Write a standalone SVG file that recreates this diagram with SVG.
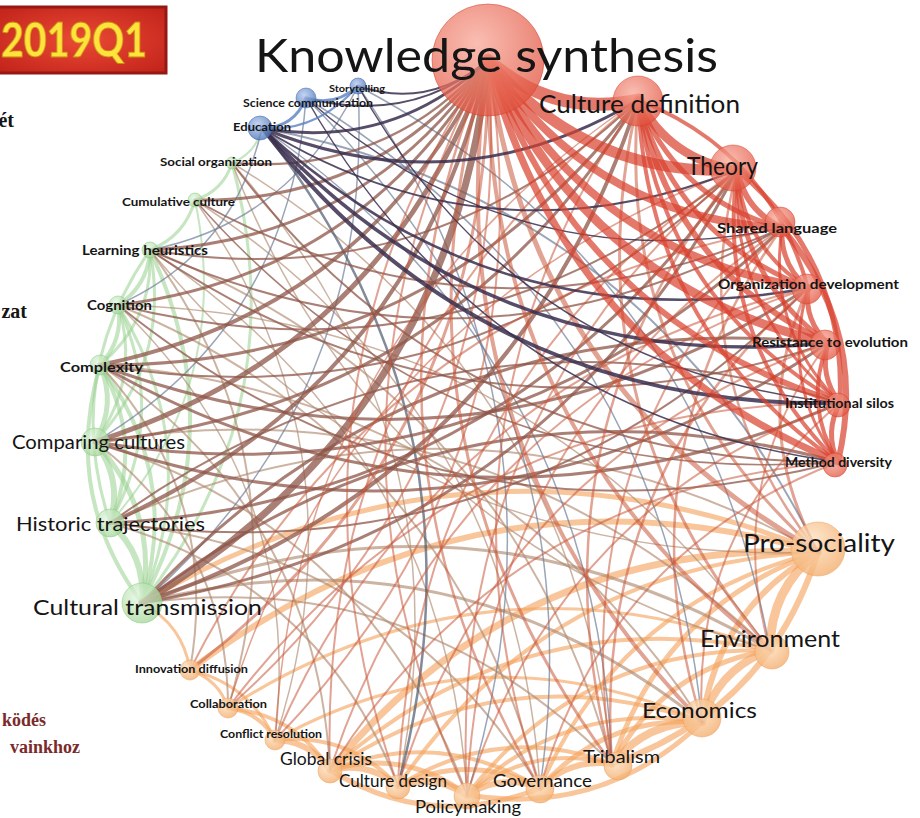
<svg xmlns="http://www.w3.org/2000/svg" width="920" height="818" viewBox="0 0 920 818">
<defs>
<radialGradient id="gR" cx=".4" cy=".35" r=".7"><stop offset="0" stop-color="#f8a898"/><stop offset="1" stop-color="#e0503c"/></radialGradient>
<radialGradient id="gO" cx=".4" cy=".35" r=".7"><stop offset="0" stop-color="#fde2c4"/><stop offset="1" stop-color="#f3ac6a"/></radialGradient>
<radialGradient id="gG" cx=".4" cy=".35" r=".7"><stop offset="0" stop-color="#e4f6e0"/><stop offset="1" stop-color="#9fd494"/></radialGradient>
<radialGradient id="gB" cx=".4" cy=".35" r=".7"><stop offset="0" stop-color="#b4caee"/><stop offset="1" stop-color="#4a72b8"/></radialGradient>
<radialGradient id="gBox" cx=".5" cy=".5" r=".7"><stop offset="0" stop-color="#ea4a34"/><stop offset="1" stop-color="#c0221a"/></radialGradient>
</defs>
<style>
.e{fill:none;stroke-linecap:round}
.rr{stroke:#d8402c;stroke-opacity:.7}
.ro{stroke:#c8583a;stroke-opacity:.55}
.rg{stroke:#8e5548;stroke-opacity:.75}
.rb{stroke:#3a2e4e;stroke-opacity:.85}
.oo{stroke:#f3a35c;stroke-opacity:.62}
.og{stroke:#b08a70;stroke-opacity:.65}
.gg{stroke:#98d08e;stroke-opacity:.55}
.bb{stroke:#5a80c0;stroke-opacity:.8}
.bx{stroke:#6f7f98;stroke-opacity:.7}
.nR{fill:url(#gR);fill-opacity:.75;stroke:#d8402c;stroke-opacity:.5}
.nO{fill:url(#gO);fill-opacity:.8;stroke:#f0a060;stroke-opacity:.5}
.nG{fill:url(#gG);fill-opacity:.75;stroke:#8cc884;stroke-opacity:.5}
.nB{fill:url(#gB);fill-opacity:.8;stroke:#3a62a8;stroke-opacity:.5}
text{font-family:Lato,"Open Sans","DejaVu Sans",sans-serif;fill:#151515}
.b{font-weight:700}
.sv{font-family:"Liberation Serif","DejaVu Serif",serif;font-weight:700}
</style>
<rect width="920" height="818" fill="#ffffff"/>

<g id="header">
<rect x="-4" y="7" width="170" height="66" fill="url(#gBox)" stroke="#951812" stroke-width="3"/>
<text x="1" y="57" font-size="47" font-weight="900" textLength="146" lengthAdjust="spacingAndGlyphs" style="fill:#ffe23c;stroke:#c88a10;stroke-width:.8">2019Q1</text>
<text class="sv" x="14" y="127" font-size="20" text-anchor="end">ét</text>
<text class="sv" x="27" y="318" font-size="20" text-anchor="end">zat</text>
<text class="sv" x="46" y="726" font-size="18" text-anchor="end" style="fill:#7a2a2a">ködés</text>
<text class="sv" x="80" y="753" font-size="18" text-anchor="end" style="fill:#7a2a2a">vainkhoz</text>
</g>

<g id="connectors">
<!-- orange-orange -->
<path class="e oo" stroke-width="9" d="M818 552Q770 589 770 650"/>
<path class="e oo" stroke-width="8" d="M770 650Q718 669 702 722"/>
<path class="e oo" stroke-width="8" d="M702 722Q647 721 612 764"/>
<path class="e oo" stroke-width="6" d="M612 764Q570 758 540 788"/>
<path class="e oo" stroke-width="6" d="M540 788Q502 773 467 795"/>
<path class="e oo" stroke-width="7" d="M467 795Q435 773 398 786"/>
<path class="e oo" stroke-width="6" d="M398 786Q368 761 330 770"/>
<path class="e oo" stroke-width="6" d="M330 770Q310 741 275 740"/>
<path class="e oo" stroke-width="4" d="M275 740Q260 712 228 708"/>
<path class="e oo" stroke-width="3" d="M228 708Q219 680 190 670"/>
<path class="e oo" stroke-width="3" d="M190 670Q183 625 142 603"/>
<path class="e oo" stroke-width="6" d="M818 552Q718 608 702 722"/>
<path class="e oo" stroke-width="5" d="M818 552Q662 607 612 764"/>
<path class="e oo" stroke-width="4" d="M818 552Q620 601 540 788"/>
<path class="e oo" stroke-width="4" d="M818 552Q550 564 398 786"/>
<path class="e oo" stroke-width="7" d="M818 552Q520 539 330 770"/>
<path class="e oo" stroke-width="6" d="M818 552Q475 454 190 670"/>
<path class="e oo" stroke-width="5" d="M818 552Q467 409 142 603"/>
<path class="e oo" stroke-width="5" d="M770 650Q663 668 612 764"/>
<path class="e oo" stroke-width="4" d="M770 650Q582 647 467 795"/>
<path class="e oo" stroke-width="4" d="M770 650Q520 600 330 770"/>
<path class="e oo" stroke-width="3" d="M770 650Q485 544 228 708"/>
<path class="e oo" stroke-width="5" d="M702 722Q605 715 540 788"/>
<path class="e oo" stroke-width="4" d="M702 722Q566 700 467 795"/>
<path class="e oo" stroke-width="4" d="M702 722Q504 653 330 770"/>
<path class="e oo" stroke-width="3" d="M702 722Q484 624 275 740"/>
<path class="e oo" stroke-width="4" d="M612 764Q532 743 467 795"/>
<path class="e oo" stroke-width="4" d="M612 764Q500 722 398 786"/>
<path class="e oo" stroke-width="5" d="M540 788Q470 752 398 786"/>
<path class="e oo" stroke-width="4" d="M540 788Q440 727 330 770"/>
<path class="e oo" stroke-width="5" d="M467 795Q405 748 330 770"/>
<path class="e oo" stroke-width="4" d="M398 786Q348 732 275 740"/>
<path class="e oo" stroke-width="4" d="M330 770Q295 714 228 708"/>
<path class="e oo" stroke-width="3" d="M275 740Q250 684 190 670"/>
<path class="e oo" stroke-width="6" d="M818 552Q768 710 612 764"/>
<path class="e oo" stroke-width="5" d="M702 722Q603 817 467 795"/>
<path class="e oo" stroke-width="5" d="M540 788Q431 832 330 770"/>
<!-- green-green -->
<path class="e gg" stroke-width="6" d="M142 603Q146 555 110 523"/>
<path class="e gg" stroke-width="6" d="M110 523Q123 479 95 442"/>
<path class="e gg" stroke-width="5" d="M95 442Q117 405 100 365"/>
<path class="e gg" stroke-width="4" d="M100 365Q124 340 118 305"/>
<path class="e gg" stroke-width="4" d="M118 305Q148 286 150 250"/>
<path class="e gg" stroke-width="3" d="M150 250Q185 236 195 200"/>
<path class="e gg" stroke-width="3" d="M195 200Q223 191 232 163"/>
<path class="e gg" stroke-width="2" d="M232 163Q256 153 262 128"/>
<path class="e gg" stroke-width="5" d="M142 603Q159 511 95 442"/>
<path class="e gg" stroke-width="4" d="M142 603Q181 474 100 365"/>
<path class="e gg" stroke-width="3" d="M142 603Q205 448 118 305"/>
<path class="e gg" stroke-width="4" d="M142 603Q234 429 150 250"/>
<path class="e gg" stroke-width="3" d="M142 603Q297 406 232 163"/>
<path class="e gg" stroke-width="4" d="M110 523Q145 442 100 365"/>
<path class="e gg" stroke-width="3" d="M110 523Q169 416 118 305"/>
<path class="e gg" stroke-width="2" d="M110 523Q233 383 195 200"/>
<path class="e gg" stroke-width="3" d="M95 442Q141 379 118 305"/>
<path class="e gg" stroke-width="3" d="M95 442Q171 360 150 250"/>
<path class="e gg" stroke-width="3" d="M100 365Q154 320 150 250"/>
<path class="e gg" stroke-width="4" d="M142 603Q62 495 100 365"/>
<path class="e gg" stroke-width="3" d="M110 523Q62 377 150 250"/>
<!-- orange-green -->
<path class="e og" stroke-width="3" d="M770 650Q468 470 142 603"/>
<path class="e og" stroke-width="3" d="M702 722Q452 523 142 603"/>
<path class="e og" stroke-width="2" d="M818 552Q471 361 110 523"/>
<path class="e og" stroke-width="2" d="M770 650Q485 377 95 442"/>
<path class="e og" stroke-width="2" d="M702 722Q490 393 100 365"/>
<path class="e og" stroke-width="2" d="M540 788Q450 441 118 305"/>
<path class="e og" stroke-width="2" d="M612 764Q510 392 150 250"/>
<path class="e og" stroke-width="2" d="M612 764Q417 566 142 603"/>
<path class="e og" stroke-width="2" d="M540 788Q391 548 110 523"/>
<path class="e og" stroke-width="2" d="M467 795Q369 526 95 442"/>
<path class="e og" stroke-width="2" d="M190 670Q221 495 100 365"/>
<path class="e og" stroke-width="2" d="M228 708Q304 460 150 250"/>
<path class="e og" stroke-width="1.5" d="M232 163Q379 541 770 650"/>
<path class="e og" stroke-width="1.5" d="M540 788Q515 408 195 200"/>
<path class="e og" stroke-width="1.5" d="M150 250Q409 568 818 552"/>
<path class="e og" stroke-width="1.5" d="M770 650Q530 315 118 305"/>
<path class="e og" stroke-width="1.5" d="M275 740Q370 450 195 200"/>
<path class="e og" stroke-width="1.5" d="M398 786Q471 433 232 163"/>
<path class="e og" stroke-width="2" d="M330 770Q316 510 100 365"/>
<path class="e og" stroke-width="2" d="M398 786Q320 583 110 523"/>
<path class="e og" stroke-width="1.5" d="M467 795Q445 443 150 250"/>
<path class="e og" stroke-width="2" d="M228 708Q228 542 95 442"/>
<path class="e og" stroke-width="1.5" d="M275 740Q305 483 118 305"/>
<path class="e og" stroke-width="1.5" d="M612 764Q572 369 232 163"/>
<!-- blue-other -->
<path class="e bx" stroke-width="1.5" d="M540 788Q598 389 306 98"/>
<path class="e bx" stroke-width="1.5" d="M467 795Q585 415 358 86"/>
<path class="e bx" stroke-width="1.5" d="M702 722Q662 315 306 98"/>
<path class="e bx" stroke-width="1.5" d="M770 650Q701 267 358 86"/>
<path class="e bx" stroke-width="1.5" d="M612 764Q596 359 262 128"/>
<path class="e bx" stroke-width="1.5" d="M95 442Q289 327 306 98"/>
<path class="e bx" stroke-width="1.5" d="M142 603Q375 400 358 86"/>
<path class="e bx" stroke-width="1.5" d="M118 305Q234 253 262 128"/>
<path class="e bx" stroke-width="1.5" d="M150 250Q291 222 358 86"/>
<path class="e bx" stroke-width="2" d="M818 552Q646 201 262 128"/>
<path class="e bx" stroke-width="2.5" style="stroke:#4e5a6e" d="M398 786Q495 423 262 128"/>
<!-- red-green -->
<path class="e rg" stroke-width="7" d="M142 603Q451 418 488 60"/>
<path class="e rg" stroke-width="4" d="M110 523Q415 386 488 60"/>
<path class="e rg" stroke-width="5" d="M95 442Q387 349 488 60"/>
<path class="e rg" stroke-width="4" d="M100 365Q370 310 488 60"/>
<path class="e rg" stroke-width="3" d="M118 305Q364 275 488 60"/>
<path class="e rg" stroke-width="3" d="M150 250Q367 240 488 60"/>
<path class="e rg" stroke-width="3" d="M195 200Q377 203 488 60"/>
<path class="e rg" stroke-width="2.5" d="M232 163Q386 176 488 60"/>
<path class="e rg" stroke-width="4" d="M142 603Q516 476 638 100"/>
<path class="e rg" stroke-width="3" d="M95 442Q452 407 638 100"/>
<path class="e rg" stroke-width="3" d="M100 365Q435 367 638 100"/>
<path class="e rg" stroke-width="2" d="M150 250Q432 297 638 100"/>
<path class="e rg" stroke-width="3" d="M142 603Q548 535 737 170"/>
<path class="e rg" stroke-width="3" d="M110 523Q512 503 737 170"/>
<path class="e rg" stroke-width="2" d="M118 305Q461 392 737 170"/>
<path class="e rg" stroke-width="3" d="M95 442Q492 507 782 228"/>
<path class="e rg" stroke-width="2" d="M195 200Q482 361 782 228"/>
<path class="e rg" stroke-width="2" d="M110 523Q518 580 808 288"/>
<path class="e rg" stroke-width="3" d="M100 365Q473 504 808 288"/>
<path class="e rg" stroke-width="3" d="M828 343Q420 302 142 603"/>
<path class="e rg" stroke-width="3" d="M95 442Q486 576 828 343"/>
<path class="e rg" stroke-width="2" d="M150 250Q466 466 828 343"/>
<path class="e rg" stroke-width="2" d="M840 403Q445 281 110 523"/>
<path class="e rg" stroke-width="3" d="M100 365Q461 569 840 403"/>
<path class="e rg" stroke-width="3" d="M838 462Q455 359 142 603"/>
<path class="e rg" stroke-width="2" d="M118 305Q439 564 838 462"/>
<path class="e rg" stroke-width="2" d="M232 163Q460 464 838 462"/>
<path class="e rg" stroke-width="2" d="M100 365Q467 427 737 170"/>
<path class="e rg" stroke-width="2" d="M150 250Q472 397 782 228"/>
<path class="e rg" stroke-width="1.5" d="M195 200Q451 492 838 462"/>
<!-- red-orange -->
<path class="e ro" stroke-width="5" d="M488 60Q530 389 818 552"/>
<path class="e ro" stroke-width="4" d="M488 60Q482 426 770 650"/>
<path class="e ro" stroke-width="4" d="M488 60Q430 445 702 722"/>
<path class="e ro" stroke-width="3" d="M488 60Q374 443 612 764"/>
<path class="e ro" stroke-width="2.5" d="M488 60Q332 437 540 788"/>
<path class="e ro" stroke-width="2" d="M488 60Q294 422 467 795"/>
<path class="e ro" stroke-width="2" d="M488 60Q262 401 398 786"/>
<path class="e ro" stroke-width="3" d="M638 100Q567 408 770 650"/>
<path class="e ro" stroke-width="2" d="M638 100Q417 420 540 788"/>
<path class="e ro" stroke-width="2" d="M638 100Q317 358 330 770"/>
<path class="e ro" stroke-width="2.5" d="M737 170Q526 436 612 764"/>
<path class="e ro" stroke-width="2" d="M737 170Q414 393 398 786"/>
<path class="e ro" stroke-width="2.5" d="M782 228Q619 455 702 722"/>
<path class="e ro" stroke-width="2" d="M782 228Q483 433 467 795"/>
<path class="e ro" stroke-width="2" d="M782 228Q376 301 190 670"/>
<path class="e ro" stroke-width="2.5" d="M808 288Q591 477 612 764"/>
<path class="e ro" stroke-width="2" d="M808 288Q429 381 275 740"/>
<path class="e ro" stroke-width="2" d="M828 343Q502 457 398 786"/>
<path class="e ro" stroke-width="2" d="M840 403Q556 506 467 795"/>
<path class="e ro" stroke-width="2" d="M840 403Q458 403 228 708"/>
<path class="e ro" stroke-width="2" d="M838 462Q608 551 540 788"/>
<path class="e ro" stroke-width="2" d="M838 462Q507 489 330 770"/>
<path class="e ro" stroke-width="3" d="M638 100Q615 371 818 552"/>
<path class="e ro" stroke-width="2.5" d="M737 170Q682 381 818 552"/>
<path class="e ro" stroke-width="3" d="M808 288Q747 423 818 552"/>
<path class="e ro" stroke-width="2" d="M828 343Q722 482 770 650"/>
<path class="e ro" stroke-width="2" d="M840 403Q691 528 702 722"/>
<path class="e ro" stroke-width="2" d="M782 228Q563 454 612 764"/>
<path class="e ro" stroke-width="2" d="M737 170Q446 415 467 795"/>
<path class="e ro" stroke-width="2" d="M808 288Q449 410 330 770"/>
<path class="e ro" stroke-width="1.5" d="M737 170Q348 312 228 708"/>
<path class="e ro" stroke-width="1.5" d="M638 100Q297 329 275 740"/>
<path class="e ro" stroke-width="2" d="M275 740Q552 453 488 60"/>
<path class="e ro" stroke-width="2" d="M228 708Q520 449 488 60"/>
<path class="e ro" stroke-width="3" d="M190 670Q492 440 488 60"/>
<!-- red-blue -->
<path class="e rb" stroke-width="3" d="M262 128Q392 151 488 60"/>
<path class="e rb" stroke-width="2" d="M306 98Q411 125 488 60"/>
<path class="e rb" stroke-width="2" d="M358 86Q428 110 488 60"/>
<path class="e rb" stroke-width="3" d="M262 128Q457 208 638 100"/>
<path class="e rb" stroke-width="2" d="M262 128Q489 268 737 170"/>
<path class="e rb" stroke-width="2.5" d="M262 128Q495 345 808 288"/>
<path class="e rb" stroke-width="3.5" d="M262 128Q491 377 828 343"/>
<path class="e rb" stroke-width="4" d="M262 128Q482 410 840 403"/>
<path class="e rb" stroke-width="1.5" d="M306 98Q516 283 782 228"/>
<path class="e rb" stroke-width="1.5" d="M358 86Q518 370 840 403"/>
<path class="e rb" stroke-width="1.5" d="M306 98Q486 414 838 462"/>
<!-- blue-blue -->
<path class="e bb" stroke-width="3" d="M262 128Q294 128 306 98"/>
<path class="e bb" stroke-width="3" d="M306 98Q335 107 358 86"/>
<path class="e bb" stroke-width="2" d="M262 128Q316 133 358 86"/>
<!-- red-red -->
<path class="e rr" stroke-width="13" d="M488 60Q553 118 638 100"/>
<path class="e rr" stroke-width="11" d="M488 60Q585 177 737 170"/>
<path class="e rr" stroke-width="8" d="M488 60Q593 218 782 228"/>
<path class="e rr" stroke-width="8" d="M488 60Q591 254 808 288"/>
<path class="e rr" stroke-width="9" d="M488 60Q587 287 828 343"/>
<path class="e rr" stroke-width="6" d="M488 60Q578 320 840 403"/>
<path class="e rr" stroke-width="7" d="M488 60Q563 349 838 462"/>
<path class="e rr" stroke-width="9" d="M638 100Q670 160 737 170"/>
<path class="e rr" stroke-width="5" d="M638 100Q678 200 782 228"/>
<path class="e rr" stroke-width="5" d="M638 100Q676 237 808 288"/>
<path class="e rr" stroke-width="6" d="M638 100Q672 269 828 343"/>
<path class="e rr" stroke-width="4" d="M638 100Q663 302 840 403"/>
<path class="e rr" stroke-width="4" d="M638 100Q648 331 838 462"/>
<path class="e rr" stroke-width="6" d="M737 170Q745 210 782 228"/>
<path class="e rr" stroke-width="4" d="M737 170Q743 247 808 288"/>
<path class="e rr" stroke-width="5" d="M737 170Q739 279 828 343"/>
<path class="e rr" stroke-width="3" d="M737 170Q730 312 840 403"/>
<path class="e rr" stroke-width="4" d="M737 170Q715 341 838 462"/>
<path class="e rr" stroke-width="5" d="M782 228Q780 265 808 288"/>
<path class="e rr" stroke-width="3" d="M782 228Q767 330 840 403"/>
<path class="e rr" stroke-width="5" d="M808 288Q804 321 828 343"/>
<path class="e rr" stroke-width="3" d="M808 288Q780 383 838 462"/>
<path class="e rr" stroke-width="5" d="M828 343Q819 376 840 403"/>
<path class="e rr" stroke-width="4" d="M828 343Q803 405 838 462"/>
<path class="e rr" stroke-width="5" d="M840 403Q824 432 838 462"/>
<path class="e rr" stroke-width="6" d="M782 228Q869 331 838 462"/>
<path class="e rr" stroke-width="5" d="M737 170Q847 261 840 403"/>
<path class="e rr" stroke-width="4" d="M638 100Q770 152 808 288"/>
</g>

<g id="n-knowledge-synthesis"><circle class="nR" cx="488" cy="60" r="56"/><text x="255" y="72" font-size="46" textLength="463" lengthAdjust="spacingAndGlyphs">Knowledge synthesis</text></g>
<g id="n-culture-definition"><circle class="nR" cx="638" cy="101" r="25"/><text x="539" y="113" font-size="25" textLength="201" lengthAdjust="spacingAndGlyphs">Culture definition</text></g>
<g id="n-theory"><circle class="nR" cx="733" cy="168" r="23"/><text x="687" y="175" font-size="25" textLength="71" lengthAdjust="spacingAndGlyphs">Theory</text></g>
<g id="n-shared-language"><circle class="nR" cx="780" cy="222" r="15"/><text class="b" x="717" y="233" font-size="14" textLength="120" lengthAdjust="spacingAndGlyphs">Shared language</text></g>
<g id="n-organization-development"><circle class="nR" cx="807" cy="289" r="15"/><text class="b" x="718" y="289" font-size="13.5" textLength="181" lengthAdjust="spacingAndGlyphs">Organization development</text></g>
<g id="n-resistance-to-evolution"><circle class="nR" cx="825" cy="345" r="15"/><text class="b" x="752" y="347" font-size="13.5" textLength="156" lengthAdjust="spacingAndGlyphs">Resistance to evolution</text></g>
<g id="n-institutional-silos"><circle class="nR" cx="838" cy="405" r="12"/><text class="b" x="785" y="408" font-size="13" textLength="109" lengthAdjust="spacingAndGlyphs">Institutional silos</text></g>
<g id="n-method-diversity"><circle class="nR" cx="835" cy="465" r="12"/><text class="b" x="785" y="467" font-size="13" textLength="107" lengthAdjust="spacingAndGlyphs">Method diversity</text></g>
<g id="n-pro-sociality"><circle class="nO" cx="818" cy="549" r="27"/><text x="743" y="552" font-size="25" textLength="152" lengthAdjust="spacingAndGlyphs">Pro-sociality</text></g>
<g id="n-environment"><circle class="nO" cx="772" cy="652" r="17"/><text x="700" y="647" font-size="23" textLength="140" lengthAdjust="spacingAndGlyphs">Environment</text></g>
<g id="n-economics"><circle class="nO" cx="702" cy="718" r="19"/><text x="642" y="718" font-size="22" textLength="115" lengthAdjust="spacingAndGlyphs">Economics</text></g>
<g id="n-tribalism"><circle class="nO" cx="618" cy="766" r="14"/><text x="583" y="763" font-size="18" textLength="77" lengthAdjust="spacingAndGlyphs">Tribalism</text></g>
<g id="n-governance"><circle class="nO" cx="540" cy="789" r="14"/><text x="493" y="787" font-size="17.5" textLength="99" lengthAdjust="spacingAndGlyphs">Governance</text></g>
<g id="n-policymaking"><circle class="nO" cx="467" cy="796" r="13"/><text x="415" y="813" font-size="17" textLength="106" lengthAdjust="spacingAndGlyphs">Policymaking</text></g>
<g id="n-culture-design"><circle class="nO" cx="398" cy="787" r="12"/><text x="339" y="787" font-size="16.5" textLength="108" lengthAdjust="spacingAndGlyphs">Culture design</text></g>
<g id="n-global-crisis"><circle class="nO" cx="330" cy="771" r="12"/><text x="280" y="765" font-size="17" textLength="92" lengthAdjust="spacingAndGlyphs">Global crisis</text></g>
<g id="n-conflict-resolution"><circle class="nO" cx="275" cy="740" r="10"/><text class="b" x="220" y="738" font-size="11.5" textLength="102" lengthAdjust="spacingAndGlyphs">Conflict resolution</text></g>
<g id="n-collaboration"><circle class="nO" cx="228" cy="708" r="10"/><text class="b" x="190" y="708" font-size="11.5" textLength="77" lengthAdjust="spacingAndGlyphs">Collaboration</text></g>
<g id="n-innovation-diffusion"><circle class="nO" cx="190" cy="670" r="10"/><text class="b" x="135" y="673" font-size="11.5" textLength="113" lengthAdjust="spacingAndGlyphs">Innovation diffusion</text></g>
<g id="n-cultural-transmission"><circle class="nG" cx="142" cy="603" r="20"/><text x="33" y="615" font-size="21" textLength="229" lengthAdjust="spacingAndGlyphs">Cultural transmission</text></g>
<g id="n-historic-trajectories"><circle class="nG" cx="110" cy="523" r="14"/><text x="16" y="531" font-size="19" textLength="189" lengthAdjust="spacingAndGlyphs">Historic trajectories</text></g>
<g id="n-comparing-cultures"><circle class="nG" cx="95" cy="442" r="14"/><text x="12" y="449" font-size="18.5" textLength="173" lengthAdjust="spacingAndGlyphs">Comparing cultures</text></g>
<g id="n-complexity"><circle class="nG" cx="100" cy="365" r="10"/><text class="b" x="60" y="372" font-size="13.5" textLength="83" lengthAdjust="spacingAndGlyphs">Complexity</text></g>
<g id="n-cognition"><circle class="nG" cx="118" cy="305" r="9"/><text class="b" x="87" y="310" font-size="12.5" textLength="65" lengthAdjust="spacingAndGlyphs">Cognition</text></g>
<g id="n-learning-heuristics"><circle class="nG" cx="150" cy="250" r="8"/><text class="b" x="82" y="255" font-size="12.5" textLength="126" lengthAdjust="spacingAndGlyphs">Learning heuristics</text></g>
<g id="n-cumulative-culture"><circle class="nG" cx="195" cy="200" r="7"/><text class="b" x="122" y="206" font-size="11.5" textLength="113" lengthAdjust="spacingAndGlyphs">Cumulative culture</text></g>
<g id="n-social-organization"><circle class="nG" cx="232" cy="163" r="6"/><text class="b" x="160" y="166" font-size="11.5" textLength="112" lengthAdjust="spacingAndGlyphs">Social organization</text></g>
<g id="n-education"><circle class="nB" cx="260" cy="128" r="12"/><text class="b" x="233" y="131" font-size="11.5" textLength="58" lengthAdjust="spacingAndGlyphs">Education</text></g>
<g id="n-science-communication"><circle class="nB" cx="306" cy="98" r="10"/><text class="b" x="243" y="107" font-size="11" textLength="130" lengthAdjust="spacingAndGlyphs">Science communication</text></g>
<g id="n-storytelling"><circle class="nB" cx="358" cy="86" r="8"/><text class="b" x="329" y="92" font-size="10" textLength="56" lengthAdjust="spacingAndGlyphs">Storytelling</text></g>
</svg>
